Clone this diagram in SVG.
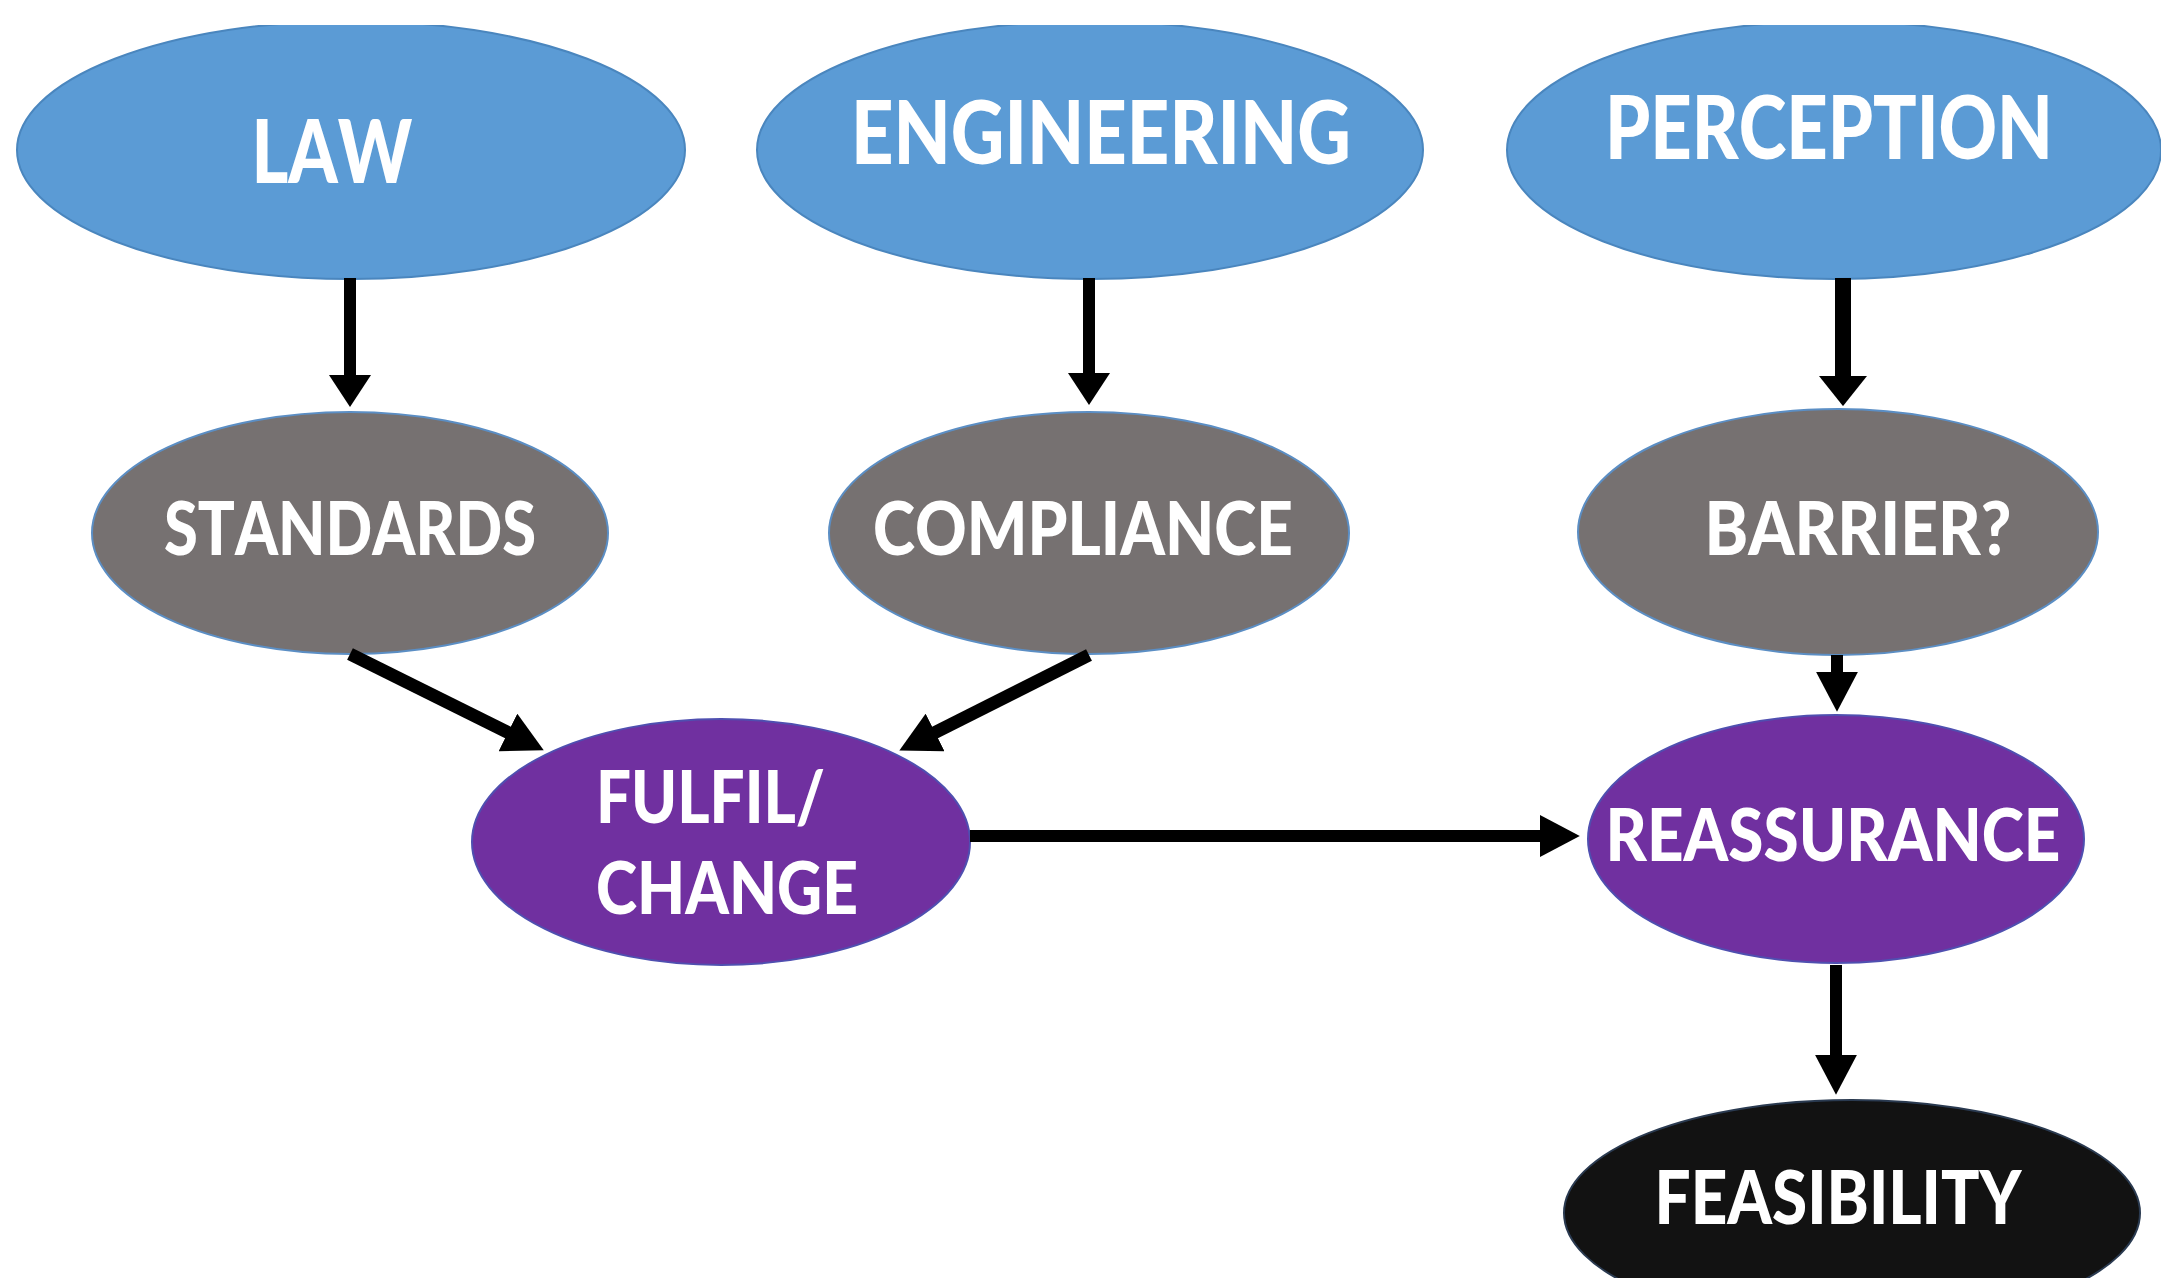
<svg xmlns="http://www.w3.org/2000/svg" width="2161" height="1278" viewBox="0 0 2161 1278">
<style>
.blue{fill:#5B9BD5;stroke:#4A86BE;stroke-width:2}
.gray{fill:#767171;stroke:#5B8EC4;stroke-width:2}
.purple{fill:#7030A0;stroke:#4F4FB0;stroke-width:2}
.black{fill:#121212;stroke:#2a3a50;stroke-width:2}
text{font-family:Lato,"Open Sans","Liberation Sans",sans-serif;font-weight:900;fill:#FFFFFF;text-anchor:middle;font-kerning:none}
.big{font-size:88px}
.mid{font-size:74px}
.sm{font-size:72px}
.conn line{stroke:#000;stroke-width:12;fill:none}
</style>
<defs>
<clipPath id="clip"><rect x="0" y="25" width="2161" height="1253"/></clipPath>
<marker id="ah" viewBox="0 0 10 10" preserveAspectRatio="none" refX="0.3" refY="5" markerWidth="32" markerHeight="42" markerUnits="userSpaceOnUse" orient="auto">
<path d="M0,0 L10,5 L0,10 z" fill="#000"/>
</marker>
<marker id="ahL" viewBox="0 0 10 10" preserveAspectRatio="none" refX="0.3" refY="5" markerWidth="40" markerHeight="42" markerUnits="userSpaceOnUse" orient="auto">
<path d="M0,0 L10,5 L0,10 z" fill="#000"/>
</marker>
<marker id="ahP" viewBox="0 0 10 10" preserveAspectRatio="none" refX="0.3" refY="5" markerWidth="30" markerHeight="48" markerUnits="userSpaceOnUse" orient="auto">
<path d="M0,0 L10,5 L0,10 z" fill="#000"/>
</marker>
</defs>
<rect width="2161" height="1278" fill="#FFFFFF"/>
<g clip-path="url(#clip)">
<g id="law"><ellipse class="blue" cx="351" cy="150" rx="334" ry="129"/><text class="big" x="332" y="183" textLength="161" lengthAdjust="spacingAndGlyphs">LAW</text></g>
<g id="engineering"><ellipse class="blue" cx="1090" cy="150" rx="333" ry="129"/><text class="big" x="1101" y="164" textLength="500" lengthAdjust="spacingAndGlyphs">ENGINEERING</text></g>
<g id="perception"><ellipse class="blue" cx="1834" cy="150" rx="327" ry="129"/><text class="big" x="1829" y="159" textLength="448" lengthAdjust="spacingAndGlyphs">PERCEPTION</text></g>
<g id="standards"><ellipse class="gray" cx="350" cy="533" rx="258" ry="121"/><text class="mid" x="350" y="555" textLength="372" lengthAdjust="spacingAndGlyphs">STANDARDS</text></g>
<g id="compliance"><ellipse class="gray" cx="1089" cy="533" rx="260" ry="121"/><text class="mid" x="1083" y="555" textLength="420" lengthAdjust="spacingAndGlyphs">COMPLIANCE</text></g>
<g id="barrier"><ellipse class="gray" cx="1838" cy="532" rx="260" ry="123"/><text class="mid" x="1858" y="555" textLength="307" lengthAdjust="spacingAndGlyphs">BARRIER?</text></g>
<g id="fulfil"><ellipse class="purple" cx="721" cy="842" rx="249" ry="123"/><text class="sm" style="text-anchor:start" x="596" y="823" textLength="229" lengthAdjust="spacingAndGlyphs">FULFIL/</text><text class="sm" style="text-anchor:start" x="596" y="914" textLength="262" lengthAdjust="spacingAndGlyphs">CHANGE</text></g>
<g id="reassurance"><ellipse class="purple" cx="1836" cy="839" rx="248" ry="124"/><text class="sm" x="1833" y="861" textLength="455" lengthAdjust="spacingAndGlyphs">REASSURANCE</text></g>
<g id="feasibility"><ellipse class="black" cx="1852" cy="1213" rx="288" ry="113"/><text class="mid" x="1838" y="1224" textLength="367" lengthAdjust="spacingAndGlyphs">FEASIBILITY</text></g>
</g>
<g id="connectors" class="conn">
<line x1="350" y1="278" x2="350" y2="376" marker-end="url(#ah)"/>
<line x1="1089" y1="278" x2="1089" y2="374" marker-end="url(#ah)"/>
<line x1="1843" y1="278" x2="1843" y2="377" style="stroke-width:16" marker-end="url(#ahP)"/>
<line x1="350" y1="654" x2="509" y2="733" style="stroke-width:13" marker-end="url(#ahL)"/>
<line x1="1089" y1="655" x2="934" y2="733" style="stroke-width:13" marker-end="url(#ahL)"/>
<line x1="1837" y1="655" x2="1837" y2="673" marker-end="url(#ahL)"/>
<line x1="970" y1="836" x2="1541" y2="836" marker-end="url(#ahL)"/>
<line x1="1836" y1="965" x2="1836" y2="1056" marker-end="url(#ahL)"/>
</g>
</svg>
